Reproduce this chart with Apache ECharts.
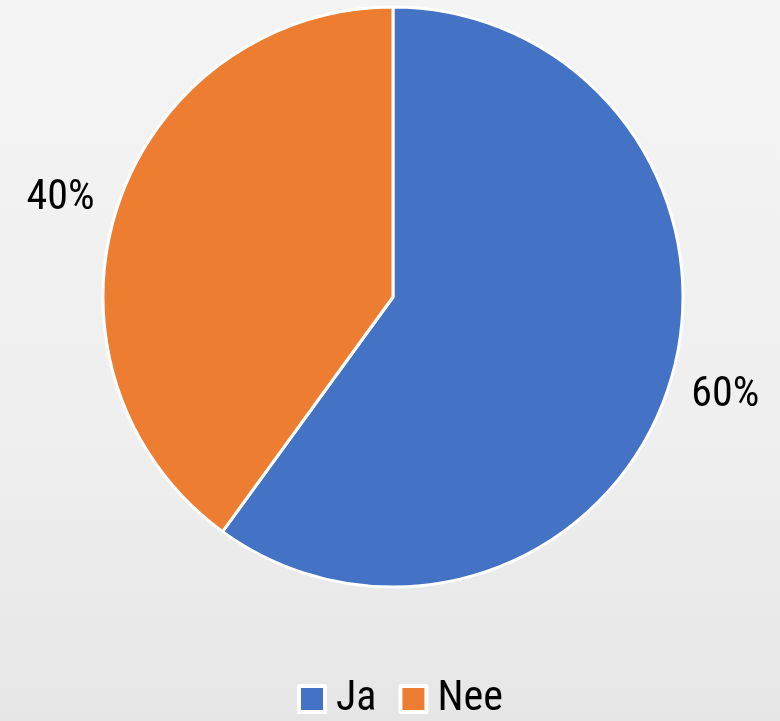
<!DOCTYPE html>
<html>
<head>
<meta charset="utf-8">
<style>
  html, body { margin: 0; padding: 0; }
  #chart { width: 780px; height: 721px; }
</style>
<script src="https://cdn.jsdelivr.net/npm/echarts@6/dist/echarts.min.js"></script>
</head>
<body>
<div id="chart"></div>
<script>
// Answers to the question and their counts
const categories = ['Ja', 'Nee'];
const values = [60, 40];
const colors = ['#4472C4', '#ED7D31'];

const fontFamily = '"Roboto Condensed", Roboto, sans-serif';

const chart = echarts.init(document.getElementById('chart'));

chart.setOption({
  backgroundColor: {
    type: 'linear', x: 0, y: 0, x2: 0, y2: 1,
    colorStops: [
      { offset: 0, color: '#f4f4f4' },
      { offset: 0.6, color: '#efefef' },
      { offset: 1, color: '#e6e6e6' }
    ]
  },
  color: colors,
  legend: {
    bottom: -4,
    left: 292,
    icon: 'rect',
    itemWidth: 26,
    itemHeight: 26,
    itemGap: 22,
    itemStyle: { borderColor: '#ffffff', borderWidth: 4 },
    textStyle: { fontFamily: fontFamily, fontSize: 42, color: '#000', padding: [0, 0, 0, 6] },
    data: categories
  },
  series: [{
    type: 'pie',
    center: [393, 297],
    radius: 290,
    startAngle: 90,
    clockwise: true,
    avoidLabelOverlap: false,
    itemStyle: { borderColor: '#ffffff', borderWidth: 3 },
    label: {
      show: true,
      position: 'outside',
      formatter: '{d}%',
      fontFamily: fontFamily,
      fontSize: 42,
      color: '#000'
    },
    labelLine: { show: false, length: 30, length2: -11 },
    emphasis: { disabled: true },
    data: categories.map((name, i) => ({ name: name, value: values[i] }))
  }]
});
</script>
</body>
</html>
